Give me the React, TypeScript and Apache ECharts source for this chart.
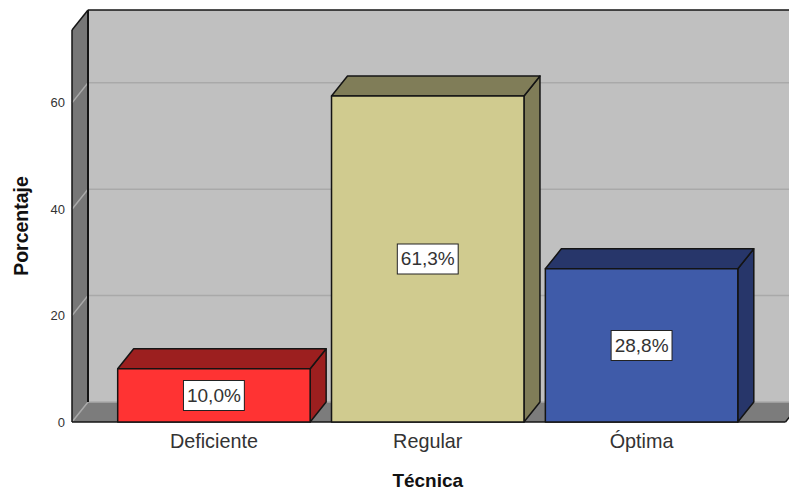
import React, { useEffect, useRef } from "react";
import * as echarts from "echarts";

const categories = ["Deficiente", "Regular", "Óptima"];
const percentages = [10.0, 61.3, 28.8];
const percentLabels = ["10,0%", "61,3%", "28,8%"];
const frontColors = ["#FF3333", "#D0CB8F", "#3F5BA9"];
const shadeColors = ["#9C1F1F", "#807D58", "#27366A"];
const yTicks = [0, 20, 40, 60];

const FONT = "'Liberation Sans', Arial, sans-serif";
const DX = 16;
const DY = 20;
const LINE = "#141414";

function renderWalls(params: any, api: any) {
  const cs = params.coordSys;
  const left = cs.x - 35;
  const right = cs.x + cs.width + 37;
  const top = cs.y;
  const bottom = cs.y + cs.height;
  const children: any[] = [
    { type: "rect", shape: { x: left + DX, y: top - DY, width: right - left, height: cs.height }, style: { fill: "#C0C0C0", stroke: "none" } },
    { type: "polygon", shape: { points: [[left, bottom], [left + DX, bottom - DY], [right + DX, bottom - DY], [right, bottom]] }, style: { fill: "#7C7C7C", stroke: "none" } },
    { type: "polygon", shape: { points: [[left, top], [left + DX, top - DY], [left + DX, bottom - DY], [left, bottom]] }, style: { fill: "#777777", stroke: "none" } },
  ];
  yTicks.forEach((t) => {
    const y = api.coord([0, t])[1];
    children.push({
      type: "polyline",
      shape: { points: [[left, y], [left + DX, y - DY], [right + DX, y - DY]] },
      style: { fill: "none", stroke: "#A9A9A9", lineWidth: 1.5 },
    });
  });
  children.push(
    { type: "line", shape: { x1: left + DX, y1: top - DY, x2: right + DX, y2: top - DY }, style: { stroke: LINE, lineWidth: 1.5 } },
    { type: "line", shape: { x1: left + DX, y1: top - DY, x2: left + DX, y2: bottom - DY }, style: { stroke: LINE, lineWidth: 2 } },
    { type: "line", shape: { x1: left, y1: top, x2: left + DX, y2: top - DY }, style: { stroke: LINE, lineWidth: 1.5 } },
    { type: "line", shape: { x1: left, y1: top, x2: left, y2: bottom }, style: { stroke: LINE, lineWidth: 1.5 } },
    { type: "line", shape: { x1: left, y1: bottom, x2: right, y2: bottom }, style: { stroke: LINE, lineWidth: 1.5 } },
    { type: "line", shape: { x1: right, y1: bottom, x2: right + DX, y2: bottom - DY }, style: { stroke: LINE, lineWidth: 1.5 } },
  );
  return { type: "group", children };
}

function renderBar(params: any, api: any) {
  const i = api.value(0);
  const [cx, yTop] = api.coord([i, api.value(1)]);
  const [, yBase] = api.coord([i, 0]);
  const w = api.size([1, 0])[0] * 0.9;
  const x0 = cx - w / 2;
  const x1 = cx + w / 2;
  const border = { stroke: LINE, lineWidth: 1.5, lineJoin: "round" };
  return {
    type: "group",
    children: [
      { type: "polygon", shape: { points: [[x1, yTop], [x1 + DX, yTop - DY], [x1 + DX, yBase - DY], [x1, yBase]] }, style: { fill: shadeColors[i], ...border } },
      { type: "polygon", shape: { points: [[x0, yTop], [x0 + DX, yTop - DY], [x1 + DX, yTop - DY], [x1, yTop]] }, style: { fill: shadeColors[i], ...border } },
      { type: "rect", shape: { x: x0, y: yTop, width: w, height: yBase - yTop }, style: { fill: frontColors[i], ...border } },
      {
        type: "text",
        x: cx,
        y: (yTop + yBase) / 2,
        style: {
          text: percentLabels[i],
          x: 0,
          y: 0,
          align: "center",
          verticalAlign: "middle",
          fill: "#333333",
          fontFamily: FONT,
          fontSize: 19,
          backgroundColor: "#FFFFFF",
          borderColor: "#222222",
          borderWidth: 1,
          padding: [5, 3, 5, 3],
        },
      },
    ],
  };
}

export default function App() {
  const ref = useRef<HTMLDivElement>(null);
  useEffect(() => {
    const chart = echarts.init(ref.current!, undefined, { renderer: "svg" });
    chart.setOption({
      animation: false,
      backgroundColor: "#FFFFFF",
      grid: { left: 107, top: 30, width: 641.5, height: 392, outerBoundsMode: "none" },
      xAxis: {
        type: "category",
        data: categories,
        name: "Técnica",
        nameLocation: "middle",
        nameGap: 50,
        nameTextStyle: { fontFamily: FONT, fontWeight: "bold", fontSize: 19, lineHeight: 16, color: "#111111" },
        axisLine: { show: false },
        axisTick: { show: false },
        axisLabel: { fontFamily: FONT, fontSize: 19.8, color: "#333333", margin: 9 },
      },
      yAxis: {
        type: "value",
        min: 0,
        max: 73.7,
        interval: 20,
        offset: 35,
        name: "Porcentaje",
        nameLocation: "middle",
        nameGap: 41,
        nameTextStyle: { fontFamily: FONT, fontWeight: "bold", fontSize: 19.5, color: "#111111" },
        axisLine: { show: false },
        axisTick: { show: false },
        splitLine: { show: false },
        axisLabel: { fontFamily: FONT, fontSize: 13, color: "#333333", margin: 7, showMaxLabel: false },
      },
      series: [
        { type: "custom", silent: true, z: 1, clip: false, renderItem: renderWalls, data: [[0, 0]] },
        {
          type: "custom",
          z: 2,
          clip: false,
          renderItem: renderBar,
          encode: { x: 0, y: 1 },
          data: percentages.map((v, i) => [i, v]),
        },
      ],
    });
    return () => chart.dispose();
  }, []);
  return <div ref={ref} style={{ position: "fixed", left: 0, top: 0, width: 789, height: 490 }} />;
}
